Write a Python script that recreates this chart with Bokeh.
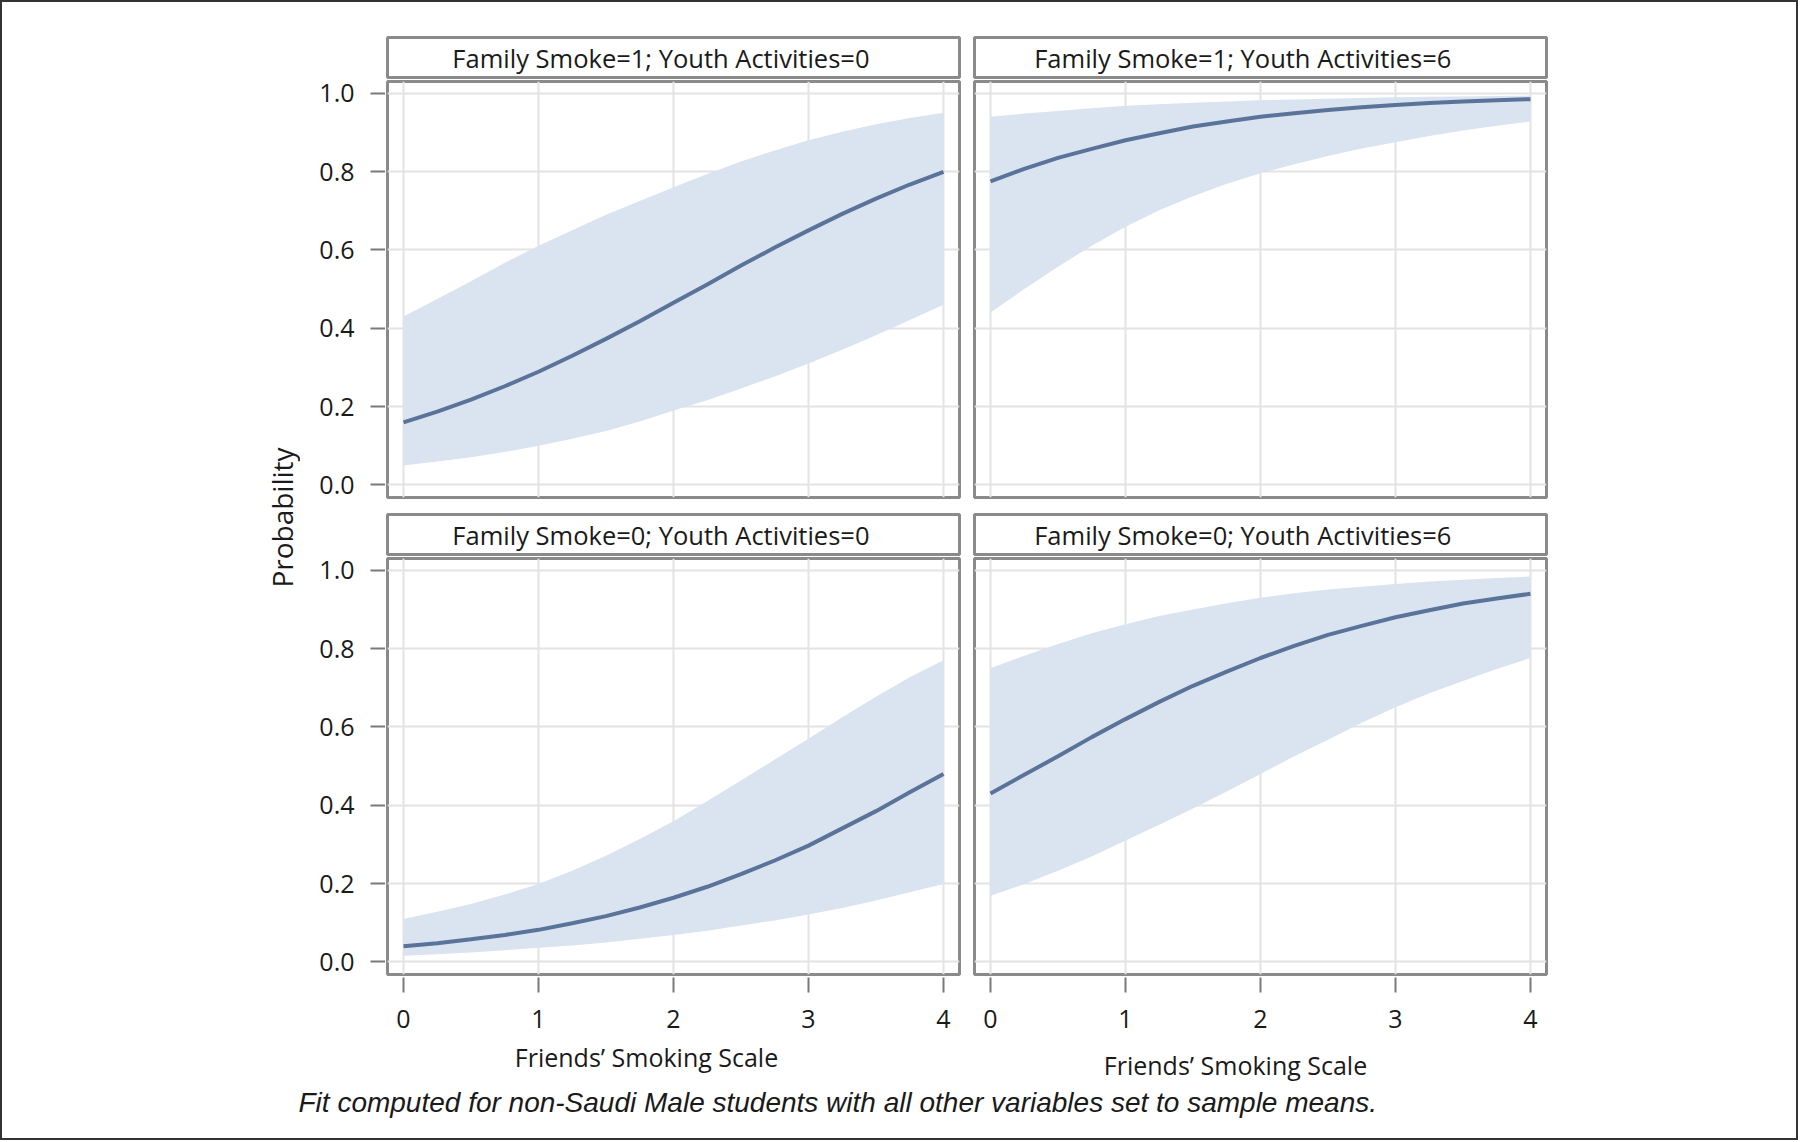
from bokeh.plotting import figure
from bokeh.layouts import row, column
from bokeh.models import Range1d, Spacer, FixedTicker, PrintfTickFormatter
from bokeh.core.properties import value
from bokeh.embed import file_html
from bokeh.resources import INLINE
import math

# ---------------- data ----------------
friends_scale = [0, 0.25, 0.5, 0.75, 1, 1.25, 1.5, 1.75, 2,
                 2.25, 2.5, 2.75, 3, 3.25, 3.5, 3.75, 4]

# Family Smoke=1; Youth Activities=0
fit_fs1_ya0 = [0.160, 0.187, 0.218, 0.252, 0.289, 0.330, 0.373, 0.418, 0.465,
               0.512, 0.560, 0.606, 0.650, 0.692, 0.731, 0.767, 0.799]
lo_fs1_ya0 = [0.050, 0.060, 0.071, 0.084, 0.100, 0.118, 0.138, 0.162, 0.190,
              0.216, 0.246, 0.277, 0.310, 0.345, 0.382, 0.421, 0.460]
hi_fs1_ya0 = [0.430, 0.475, 0.520, 0.567, 0.611, 0.650, 0.690, 0.725, 0.760,
              0.794, 0.826, 0.854, 0.880, 0.902, 0.921, 0.937, 0.950]

# Family Smoke=1; Youth Activities=6
fit_fs1_ya6 = [0.775, 0.807, 0.835, 0.858, 0.880, 0.898, 0.915, 0.928, 0.940,
               0.949, 0.957, 0.964, 0.970, 0.975, 0.979, 0.982, 0.985]
lo_fs1_ya6 = [0.440, 0.500, 0.557, 0.611, 0.659, 0.701, 0.737, 0.769, 0.796,
              0.819, 0.840, 0.859, 0.875, 0.891, 0.905, 0.917, 0.928]
hi_fs1_ya6 = [0.940, 0.948, 0.955, 0.962, 0.968, 0.972, 0.976, 0.979, 0.982,
              0.984, 0.986, 0.988, 0.990, 0.991, 0.992, 0.993, 0.994]

# Family Smoke=0; Youth Activities=0
fit_fs0_ya0 = [0.040, 0.048, 0.058, 0.069, 0.082, 0.099, 0.117, 0.139, 0.164,
               0.192, 0.224, 0.259, 0.297, 0.341, 0.385, 0.433, 0.480]
lo_fs0_ya0 = [0.016, 0.020, 0.024, 0.030, 0.036, 0.042, 0.050, 0.059, 0.069,
              0.080, 0.093, 0.106, 0.121, 0.138, 0.157, 0.178, 0.199]
hi_fs0_ya0 = [0.110, 0.128, 0.148, 0.172, 0.199, 0.233, 0.271, 0.314, 0.359,
              0.411, 0.463, 0.517, 0.570, 0.625, 0.677, 0.727, 0.770]

# Family Smoke=0; Youth Activities=6
fit_fs0_ya6 = [0.430, 0.478, 0.525, 0.574, 0.620, 0.664, 0.705, 0.741, 0.776,
               0.807, 0.835, 0.858, 0.880, 0.898, 0.915, 0.928, 0.940]
lo_fs0_ya6 = [0.169, 0.199, 0.233, 0.269, 0.310, 0.350, 0.392, 0.435, 0.480,
              0.525, 0.567, 0.611, 0.650, 0.686, 0.717, 0.748, 0.776]
hi_fs0_ya6 = [0.750, 0.782, 0.812, 0.839, 0.862, 0.883, 0.900, 0.916, 0.930,
              0.941, 0.951, 0.958, 0.965, 0.971, 0.976, 0.980, 0.984]

panel_titles = ["Family Smoke=1; Youth Activities=0",
                "Family Smoke=1; Youth Activities=6",
                "Family Smoke=0; Youth Activities=0",
                "Family Smoke=0; Youth Activities=6"]
x_ticks = [0, 1, 2, 3, 4]
y_ticks = [0.0, 0.2, 0.4, 0.6, 0.8, 1.0]
x_title = "Friends\u2019 Smoking Scale"
y_title = "Probability"
caption = "Fit computed for non-Saudi Male students with all other variables set to sample means."

# ---------------- styling ----------------
FONT = "Open Sans"
BAND = "#dae3f0"
LINE = "#5a7399"
FRAME = "#8a8a8a"
GRID = "#e3e3e3"
TICK = "#7a7a7a"
TXT = "#1a1a1a"

FW, FH = 572, 416
Y_RANGE = (-0.032, 1.03)
X_RANGE = (-0.1185, 4.1185)


def borders(is_left):
    return (2, 7) if is_left else (8, 10)


def header(txt, is_left):
    bl, br = borders(is_left)
    h = figure(width=bl + FW + br, height=44, x_range=Range1d(0, 1), y_range=Range1d(0, 1),
               x_axis_location=None, y_axis_location=None,
               min_border_left=bl, min_border_right=br, min_border_top=2, min_border_bottom=2,
               output_backend="svg", toolbar_location=None)
    h.title.visible = False
    h.grid.visible = False
    h.outline_line_color = FRAME
    h.outline_line_width = 3
    h.text(x=[0.478 if is_left else 0.469], y=[0.5], text=[txt], text_align="center",
           text_baseline="middle", text_font=value(FONT), text_font_size="25.5px",
           text_color=TXT)
    return h


def panel(fit, lo, hi, is_left, is_bottom):
    bl, br = borders(is_left)
    bb = 64 if is_bottom else 15
    p = figure(width=bl + FW + br, height=2 + FH + bb,
               x_range=Range1d(*X_RANGE), y_range=Range1d(*Y_RANGE),
               x_axis_location="below" if is_bottom else None,
               y_axis_location=None,
               min_border_left=bl, min_border_right=br, min_border_top=2, min_border_bottom=bb,
               output_backend="svg", toolbar_location=None)
    p.title.visible = False
    p.xgrid.ticker = FixedTicker(ticks=x_ticks)
    p.ygrid.ticker = FixedTicker(ticks=y_ticks)
    p.grid.grid_line_color = GRID
    p.grid.grid_line_width = 2
    p.outline_line_color = FRAME
    p.outline_line_width = 3
    p.background_fill_color = "white"
    p.border_fill_color = "white"

    p.varea(x=friends_scale, y1=lo, y2=hi, fill_color=BAND, fill_alpha=1.0)
    p.line(x=friends_scale, y=fit, line_color=LINE, line_width=4)

    if is_bottom:
        ax = p.xaxis[0]
        ax.ticker = FixedTicker(ticks=x_ticks)
        ax.axis_line_color = None
        ax.major_tick_in = -3
        ax.major_tick_out = 18
        ax.major_tick_line_color = TICK
        ax.major_tick_line_width = 2
        ax.minor_tick_line_color = None
        ax.major_label_standoff = 17
        ax.major_label_text_font = FONT
        ax.major_label_text_font_size = "25px"
        ax.major_label_text_color = TXT
    return p


def y_axis_fig(is_bottom):
    # hosts the Probability axis of a panel row; its top border spans the header row
    bb = 64 if is_bottom else 15
    a = figure(width=85, height=46 + FH + bb, x_range=Range1d(0, 1), y_range=Range1d(*Y_RANGE),
               x_axis_location=None, y_axis_location="left",
               min_border_left=84, min_border_right=0, min_border_top=46, min_border_bottom=bb,
               output_backend="svg", toolbar_location=None)
    a.title.visible = False
    a.grid.visible = False
    a.outline_line_color = None
    a.background_fill_color = "white"
    a.border_fill_color = "white"
    ax = a.yaxis[0]
    ax.ticker = FixedTicker(ticks=y_ticks)
    ax.formatter = PrintfTickFormatter(format="%.1f")
    ax.axis_line_color = None
    ax.major_tick_in = 1
    ax.major_tick_out = 14
    ax.major_tick_line_color = TICK
    ax.major_tick_line_width = 2
    ax.minor_tick_line_color = None
    ax.major_label_standoff = 16
    ax.major_label_text_font = FONT
    ax.major_label_text_font_size = "25px"
    ax.major_label_text_color = TXT
    return a


h1 = header(panel_titles[0], True)
h2 = header(panel_titles[1], False)
h3 = header(panel_titles[2], True)
h4 = header(panel_titles[3], False)
p1 = panel(fit_fs1_ya0, lo_fs1_ya0, hi_fs1_ya0, True, False)
p2 = panel(fit_fs1_ya6, lo_fs1_ya6, hi_fs1_ya6, False, False)
p3 = panel(fit_fs0_ya0, lo_fs0_ya0, hi_fs0_ya0, True, True)
p4 = panel(fit_fs0_ya6, lo_fs0_ya6, hi_fs0_ya6, False, True)

grid_col = column(row(h1, h2), row(p1, p2), row(h3, h4), row(p3, p4))
axis_col = column(y_axis_fig(False), y_axis_fig(True))
GH = 44 + 433 + 44 + 482
YW = 298

# y-axis title column
ylab = figure(width=YW, height=GH, x_range=Range1d(0, YW), y_range=Range1d(0, GH),
              x_axis_location=None, y_axis_location=None, min_border=0,
              output_backend="svg", toolbar_location=None)
ylab.title.visible = False
ylab.grid.visible = False
ylab.outline_line_color = None
ylab.text(x=[279], y=[GH - 482], text=[y_title], angle=math.pi / 2, text_align="center",
          text_baseline="middle", text_font=value(FONT), text_font_size="28px", text_color=TXT)

# bottom: x titles and caption
BW, BH = 1794, 100
bottom = figure(width=BW, height=BH, x_range=Range1d(0, BW), y_range=Range1d(0, BH),
                x_axis_location=None, y_axis_location=None, min_border=0,
                output_backend="svg", toolbar_location=None)
bottom.title.visible = False
bottom.grid.visible = False
bottom.outline_line_color = None
bottom.text(x=[644, 1233], y=[82, 74], text=[x_title, x_title], text_align="center",
            text_baseline="middle", text_font=value(FONT), text_font_size="25px", text_color=TXT)
bottom.text(x=[296], y=[36], text=[caption], text_align="left", text_baseline="middle",
            text_font=value("Liberation Sans"), text_font_style="italic",
            text_font_size="28px", text_color=TXT)

top_row = row(ylab, axis_col, grid_col, Spacer(width=BW - YW - 85 - 581 - 590, height=GH))
root = column(Spacer(width=BW, height=33), top_row, bottom,
              styles={"border": "2px solid #333"})

open("out.html", "w").write(file_html(root, INLINE))
